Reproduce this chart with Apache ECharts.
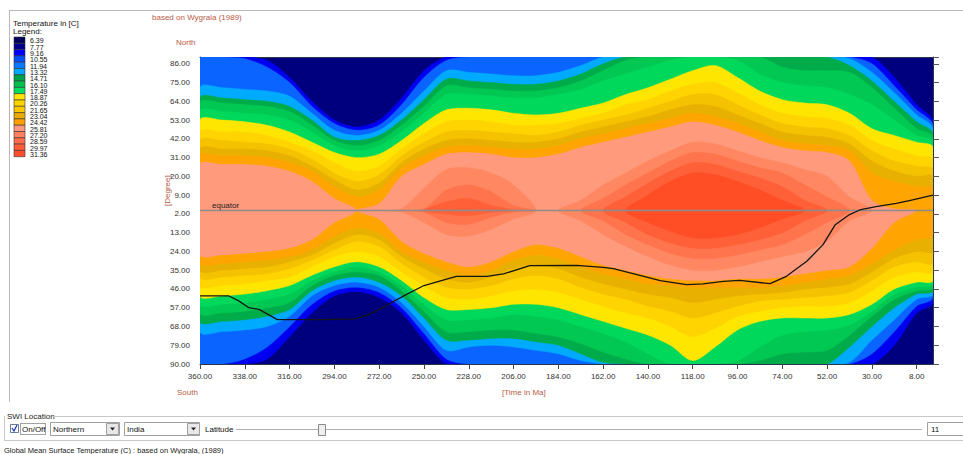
<!DOCTYPE html>
<html><head><meta charset="utf-8">
<script src="https://cdn.jsdelivr.net/npm/echarts@6/dist/echarts.min.js"></script>
<style>html,body{margin:0;padding:0;background:#fff;}#c{width:963px;height:454px;}</style>
</head><body><div id="c"></div>
<script>
// ---- time samples (Ma) ----
const times = [360,349,338,327,316,305,294,283,272,261,250,239,228,217,206,195,184,173,162,151,140,129,118,107,96,85,74,63,52,41,30,19,8,0];
// contour thresholds (deg C) for region T >= threshold
const thresholds = [9.16,10.55,13.32,14.71,16.10,17.49,18.87,20.26,21.65,23.04,24.42,25.81,27.20,28.59,29.97,31.36];
const levelColors = ['#0000f0','#0a64ff','#00aaff','#00ac4a','#00c853','#00d85c','#ffe600','#ffd400','#f5c200','#e8b000','#ffa400','#ff9a7c','#ff8862','#ff744c','#ff6038','#ff4e26'];
const coldColor = '#00007f';
// north boundary (deg latitude) of each level
const north01 = [90,90,90,88,78,64,53,49,53,66,82,90,90,90,90,90,90,90,90,90,90,90,90,90,90,90,90,90,90,90,90,78,62,52];
const north02 = [90,90,89,84,75,61,51,47,50,62,78,88,90,90,90,90,90,90,90,90,90,90,90,90,90,90,90,90,90,90,86,73,59,50];
const north03 = [72,72,71,70,67,57,47,44,47,57,70,82,81,80,79,79,81,85,90,90,90,90,90,90,90,90,90,90,90,89,81,69,56,48];
const north04 = [66,66,65,64,61,53,43,41,44,53,65,77,76,75,74,74,76,80,86,90,90,90,90,90,90,90,90,90,90,85,76,64,52,45];
const north05 = [63,63,62,61,58,50,41,38,41,50,61,73,72,71,70,70,72,76,82,88,90,90,90,90,90,90,84,82,82,81,72,60,48,43];
const north06 = [58,58,57,56,53,46,38,35,38,46,57,68,68,67,66,66,68,71,76,80,84,88,90,90,88,80,75,73,72,68,62,53,44,40];
const north07 = [53,53,52,50,46,40,34,31,33,41,51,59,60,59,57,56,57,60,63,68,72,77,82,85,78,70,65,63,62,57,48,44,40,37];
const north08 = [46,46,46,44,40,35,28,23,26,36,45,52,53,52,50,50,51,54,57,62,65,70,74,75,69,62,57,55,54,50,41,36,32,30];
const north09 = [41,41,40,39,36,30,22,17,21,32,40,46,47,46,45,44,46,50,53,56,60,64,68,68,62,56,51,49,48,44,35,29,26,24];
const north10 = [36,36,36,35,32,26,18,12,16,28,36,41,42,41,40,40,42,46,49,52,55,59,62,61,56,51,46,44,43,39,29,23,20,20];
const north11 = [32,32,32,31,28,23,14,8,12,25,32,37,38,37,36,36,38,42,45,48,51,54,57,55,51,46,41,39,38,35,22,17,14,13];
const north12 = [27,27,27,26,23,17,7,0,4,20,27,33,34,33,31,31,33,37,40,43,46,49,52,50,46,41,37,35,34,29,6,1,0,0];
const north13 = [0,0,0,0,0,0,0,0,0,1,13,24,25,22,15,0,0,6,15,22,29,35,40,39,35,31,28,24,20,8,0,0,0,0];
const north14 = [0,0,0,0,0,0,0,0,0,0,1,12,15,11,3,0,0,0,7,15,22,29,34,33,29,25,22,15,8,0,0,0,0,0];
const north15 = [0,0,0,0,0,0,0,0,0,0,0,5,7,3,0,0,0,0,0,8,16,23,28,27,23,19,14,6,0,0,0,0,0,0];
const north16 = [0,0,0,0,0,0,0,0,0,0,0,0,0,0,0,0,0,0,0,0,9,17,22,21,17,12,6,0,0,0,0,0,0,0];
// south boundary (deg latitude) of each level
const south01 = [-90,-90,-90,-87,-74,-60,-50,-47.5,-51,-60,-76,-90,-90,-90,-90,-90,-90,-90,-90,-90,-90,-90,-90,-90,-90,-90,-90,-90,-90,-90,-90,-79,-60,-54];
const south02 = [-90,-90,-87,-80,-68,-55,-47,-45,-48,-57,-72,-87,-90,-90,-90,-90,-90,-90,-90,-90,-90,-90,-90,-90,-90,-90,-90,-90,-90,-90,-84,-71,-56,-51];
const south03 = [-71,-71,-70,-68,-62,-50,-44,-42,-45,-54,-68,-82,-80,-79,-80,-82,-84,-88,-90,-90,-90,-90,-90,-90,-90,-90,-90,-90,-90,-89,-76,-64,-52,-49];
const south04 = [-65,-65,-64,-62,-58,-47,-41,-39,-42,-50,-63,-76,-76,-75,-75,-77,-79,-84,-89,-90,-90,-90,-90,-90,-90,-90,-90,-90,-90,-80,-68,-57,-49,-47];
const south05 = [-60,-60,-59,-57,-54,-44,-38,-36,-38,-47,-59,-71,-71,-70,-70,-72,-74,-78,-83,-87,-90,-90,-90,-90,-90,-88,-84,-83,-82,-73,-62,-52,-47,-45];
const south06 = [-55,-55,-54,-52,-49,-41,-36,-33,-36,-44,-55,-64,-64,-63,-61,-62,-64,-68,-72,-77,-84,-90,-90,-90,-88,-80,-73,-71,-70,-67,-59,-49,-45,-43];
const south07 = [-50,-50,-49,-47,-44,-38,-33,-30,-33,-41,-51,-58,-58,-57,-55,-55,-57,-61,-65,-69,-73,-79,-88,-80,-70,-65,-63,-63,-63,-61,-55,-46,-42,-41];
const south08 = [-44,-44,-43,-41,-39,-33,-27,-24,-27,-36,-44,-51,-52,-50,-47,-46,-48,-52,-56,-60,-63,-68,-74,-69,-62,-59,-57,-56,-56,-54,-47,-39,-36,-36];
const south09 = [-39,-39,-38,-37,-34,-29,-23,-18,-21,-31,-39,-45,-46,-44,-40,-38,-40,-45,-49,-52,-56,-59,-63,-60,-56,-53,-52,-51,-50,-48,-41,-33,-30,-31];
const south10 = [-35,-35,-34,-33,-30,-26,-19,-14,-17,-27,-34,-40,-42,-39,-34,-32,-34,-39,-43,-46,-49,-51,-54,-52,-50,-49,-48,-46,-45,-43,-36,-28,-24,-24];
const south11 = [-31,-31,-30,-29,-27,-23,-15,-10,-13,-24,-30,-35,-38,-35,-29,-26,-28,-33,-37,-40,-43,-44,-45,-45,-45,-45,-44,-42,-40,-38,-31,-23,-17,-15];
const south12 = [-26,-26,-25,-24,-22,-17,-7,0,-5,-18,-25,-30,-33,-30,-24,-20,-22,-27,-32,-35,-38,-40,-41,-41,-40,-40,-39,-37,-35,-33,-22,-7,0,0];
const south13 = [0,0,0,0,0,0,0,0,0,-1,-7,-14,-15,-11,-5,0,0,-6,-14,-21,-27,-32,-35,-35,-33,-30,-27,-24,-18,-6,0,0,0,0];
const south14 = [0,0,0,0,0,0,0,0,0,0,-1,-7,-8,-4,-1,0,0,0,-6,-14,-20,-25,-28,-28,-26,-23,-20,-14,-7,0,0,0,0,0];
const south15 = [0,0,0,0,0,0,0,0,0,0,0,-2,-3,-1,0,0,0,0,0,-7,-14,-19,-22,-22,-20,-17,-13,-6,0,0,0,0,0,0];
const south16 = [0,0,0,0,0,0,0,0,0,0,0,0,0,0,0,0,0,0,0,0,-7,-12,-16,-16,-14,-10,-5,0,0,0,0,0,0,0];
// India (SWI location) track
const trackTime = [360,346,341,336,331,322,300,284,276,269,259,250,238,234,219,211,198,175,162,157,142,134,121,113,103,95,80,72,62,54,48,41,36,28,18,10,0];
const trackLat = [-50,-50,-53,-57,-58,-64,-64,-63.5,-60.5,-56,-49.5,-44,-40,-38.6,-38.6,-37.2,-32.3,-32.2,-33.3,-34.1,-38.6,-41.1,-43.5,-43,-41.5,-41,-42.9,-38.6,-29.8,-20,-8.3,-2.4,0.3,2.3,4.2,6.2,9];
// legend
const legendValues = ['6.39','7.77','9.16','10.55','11.94','13.32','14.71','16.10','17.49','18.87','20.26','21.65','23.04','24.42','25.81','27.20','28.59','29.97','31.36'];
const legendColors = ['#00005c','#00008b','#0000ff','#0050ff','#0a78ff','#00a8ff','#00a448','#00c050','#00e060','#ffe600','#ffd400','#ffc800','#e8ac00','#ffa000','#ff9880','#ff8060','#ff6c4c','#ff5c3c','#ff4c2c'];
// axis ticks
const xTickStep = 22, yTickStep = 11;

const northLevels = [north01,north02,north03,north04,north05,north06,north07,north08,north09,north10,north11,north12,north13,north14,north15,north16];
const southLevels = [south01,south02,south03,south04,south05,south06,south07,south08,south09,south10,south11,south12,south13,south14,south15,south16];

const chart = echarts.init(document.getElementById('c'), null, {renderer:'svg'});
const FONT = 'Liberation Sans, Arial, sans-serif';
const BROWN = '#b85a44';

function renderLevel(params, api){
  const k = params.dataIndex;
  const N = northLevels[k], S = southLevels[k];
  const n = times.length, children = [];
  let i = 0;
  while (i < n){
    if (N[i] - S[i] > 0.01){
      let j = i;
      while (j + 1 < n && N[j+1] - S[j+1] > 0.01) j++;
      const a = Math.max(0, i-1), b = Math.min(n-1, j+1);
      const top = [], bot = [];
      for (let m = a; m <= b; m++){
        top.push(api.coord([360 - times[m], N[m]]));
        if (N[m] - S[m] > 0.01) bot.push(api.coord([360 - times[m], S[m]]));
      }
      children.push({type:'polygon', shape:{points: top.concat(bot.reverse()), smooth:0.3},
        style:{fill: levelColors[k], stroke: levelColors[k], lineWidth:0.5}});
      i = j + 1;
    } else i++;
  }
  return {type:'group', children};
}

const graphics = [];
const T = (x, y, text, font, fill, extra, lh) => Object.assign({type:'text', x, y, style:Object.assign({text, font, fill}, lh ? {lineHeight: lh} : {})}, extra || {});
graphics.push({type:'line', shape:{x1:9,y1:10.5,x2:963,y2:10.5}, style:{stroke:'#b8b8b8',lineWidth:1}});
graphics.push({type:'line', shape:{x1:9.5,y1:10,x2:9.5,y2:402}, style:{stroke:'#b8b8b8',lineWidth:1}});
graphics.push(T(13, 19, 'Temperature in [C]', '8px '+FONT, '#111', null, 8));
graphics.push(T(13, 27.5, 'Legend:', '8px '+FONT, '#111', null, 8));
legendColors.forEach((c, i) => {
  graphics.push({type:'rect', shape:{x:14, y:37 + i*6.3, width:11, height:6.3}, style:{fill:c, stroke:'#333', lineWidth:0.6}});
  graphics.push(T(30, 37.8 + i*6.3, legendValues[i], '7px '+FONT, '#111', null, 6.2));
});
graphics.push(T(152, 13, 'based on Wygrala (1989)', '8px '+FONT, BROWN));
graphics.push(T(176, 38, 'North', '8px '+FONT, BROWN));
graphics.push(T(177, 388, 'South', '8px '+FONT, BROWN));
graphics.push(T(502, 388, '[Time in Ma]', '8px '+FONT, BROWN));
graphics.push(T(163, 206, '[Degree]', '8px '+FONT, BROWN, {rotation: Math.PI/2}));
graphics.push(T(205, 58, 'N', 'bold 7px '+FONT, '#0a1a70'));
graphics.push({type:'polygon', shape:{points:[[209.5,65],[205.5,81],[209.5,77],[213.5,81]]}, style:{fill:'#f2f2f2', stroke:'#555', lineWidth:0.8}});
graphics.push(T(7, 412, 'SWI Location', '8px '+FONT, '#222'));
graphics.push({type:'line', shape:{x1:52,y1:416.5,x2:963,y2:416.5}, style:{stroke:'#c8c8c8'}});
graphics.push({type:'line', shape:{x1:4.5,y1:416,x2:4.5,y2:440}, style:{stroke:'#c8c8c8'}});
graphics.push({type:'line', shape:{x1:4,y1:440.5,x2:963,y2:440.5}, style:{stroke:'#c8c8c8'}});
graphics.push({type:'rect', shape:{x:10.5,y:424.5,width:8,height:8}, style:{fill:'#fff', stroke:'#6a7a9a'}});
graphics.push({type:'polyline', shape:{points:[[12,428],[14,431],[17,425]]}, style:{stroke:'#2040b0', lineWidth:1.3, fill:'none'}});
graphics.push({type:'rect', shape:{x:20.5,y:423.5,width:25,height:11}, style:{fill:'none', stroke:'#444', lineDash:[1,1]}});
graphics.push(T(22, 425, 'On/Off', '8px '+FONT, '#111'));
graphics.push({type:'rect', shape:{x:50.5,y:422.5,width:69,height:13}, style:{fill:'#fff', stroke:'#a0a0a0'}});
graphics.push(T(53, 425, 'Northern', '8px '+FONT, '#111'));
graphics.push({type:'rect', shape:{x:106.5,y:423.5,width:12,height:11}, style:{fill:'#e8e8e8', stroke:'#a0a0a0'}});
graphics.push({type:'polygon', shape:{points:[[110,427.5],[115,427.5],[112.5,430.5]]}, style:{fill:'#222'}});
graphics.push({type:'rect', shape:{x:124.5,y:422.5,width:75,height:13}, style:{fill:'#fff', stroke:'#a0a0a0'}});
graphics.push(T(127, 425, 'India', '8px '+FONT, '#111'));
graphics.push({type:'rect', shape:{x:187.5,y:423.5,width:12,height:11}, style:{fill:'#e8e8e8', stroke:'#a0a0a0'}});
graphics.push({type:'polygon', shape:{points:[[191,427.5],[196,427.5],[193.5,430.5]]}, style:{fill:'#222'}});
graphics.push(T(205, 425, 'Latitude', '8px '+FONT, '#111'));
graphics.push({type:'line', shape:{x1:236,y1:429.5,x2:922,y2:429.5}, style:{stroke:'#b0b0b0'}});
graphics.push({type:'rect', shape:{x:318.5,y:424.5,width:7,height:11}, style:{fill:'#eeeeee', stroke:'#888'}});
graphics.push({type:'rect', shape:{x:927.5,y:422.5,width:36,height:13}, style:{fill:'#fff', stroke:'#a0a0a0'}});
graphics.push(T(931, 425, '11', '8px '+FONT, '#111'));
graphics.push(T(4, 446, 'Global Mean Surface Temperature (C) : based on Wygrala, (1989)', '7.5px '+FONT, '#222'));

const option = {
  animation:false,
  backgroundColor:'#ffffff',
  grid:{left:200, right:30, top:57, bottom:90, show:true, backgroundColor:coldColor, borderWidth:0},
  xAxis:[
    {type:'value', min:0, max:360, interval:xTickStep, position:'bottom',
     axisLine:{show:true, onZero:false, lineStyle:{color:'#2a3550', width:1}},
     axisTick:{show:true, length:5, lineStyle:{color:'#444'}},
     axisLabel:{formatter:v => (360 - v).toFixed(2), showMaxLabel:false, color:'#333', fontSize:8, fontFamily:FONT, margin:8},
     splitLine:{show:false}},
    {type:'value', min:0, max:360, position:'top',
     axisLine:{show:true, onZero:false, lineStyle:{color:'#2a3550', width:1}},
     axisTick:{show:false}, axisLabel:{show:false}, splitLine:{show:false}}
  ],
  yAxis:[
    {type:'value', min:-90, max:90, interval:yTickStep, position:'left',
     axisLine:{show:true, onZero:false, lineStyle:{color:'#2a3550', width:1}},
     axisTick:{show:false},
     axisLabel:{formatter:v => Math.abs(v).toFixed(2), showMaxLabel:false, color:'#333', fontSize:8, fontFamily:FONT, margin:10},
     splitLine:{show:false}},
    {type:'value', min:-90, max:90, interval:yTickStep, position:'right',
     axisLine:{show:true, onZero:false, lineStyle:{color:'#2a3550', width:1}},
     axisTick:{show:true, length:6, lineStyle:{color:'#555'}},
     axisLabel:{show:false}, splitLine:{show:false}}
  ],
  series:[
    {type:'custom', name:'temperature', clip:true, xAxisIndex:0, yAxisIndex:0, z:1,
     renderItem: renderLevel, data: thresholds.map((t, i) => [i, t]), silent:true},
    {type:'line', name:'equator', xAxisIndex:0, yAxisIndex:0, z:3, symbolSize:0, showSymbol:true,
     lineStyle:{color:'#8c8c8c', width:1.5}, itemStyle:{color:'#8c8c8c'},
     data:[{value:[0,0], label:{show:true, formatter:'equator', position:[12,-9], color:'#222', fontSize:8, fontFamily:FONT}}, {value:[360,0]}]},
    {type:'line', name:'India', xAxisIndex:0, yAxisIndex:0, z:4, showSymbol:false, symbol:'none',
     lineStyle:{color:'#151515', width:1.3}, data: trackTime.map((t, i) => [360 - t, trackLat[i]])}
  ],
  graphic: graphics
};
try { chart.setOption(option); } catch(e) { console.error(e && e.stack); throw e; }
</script></body></html>
